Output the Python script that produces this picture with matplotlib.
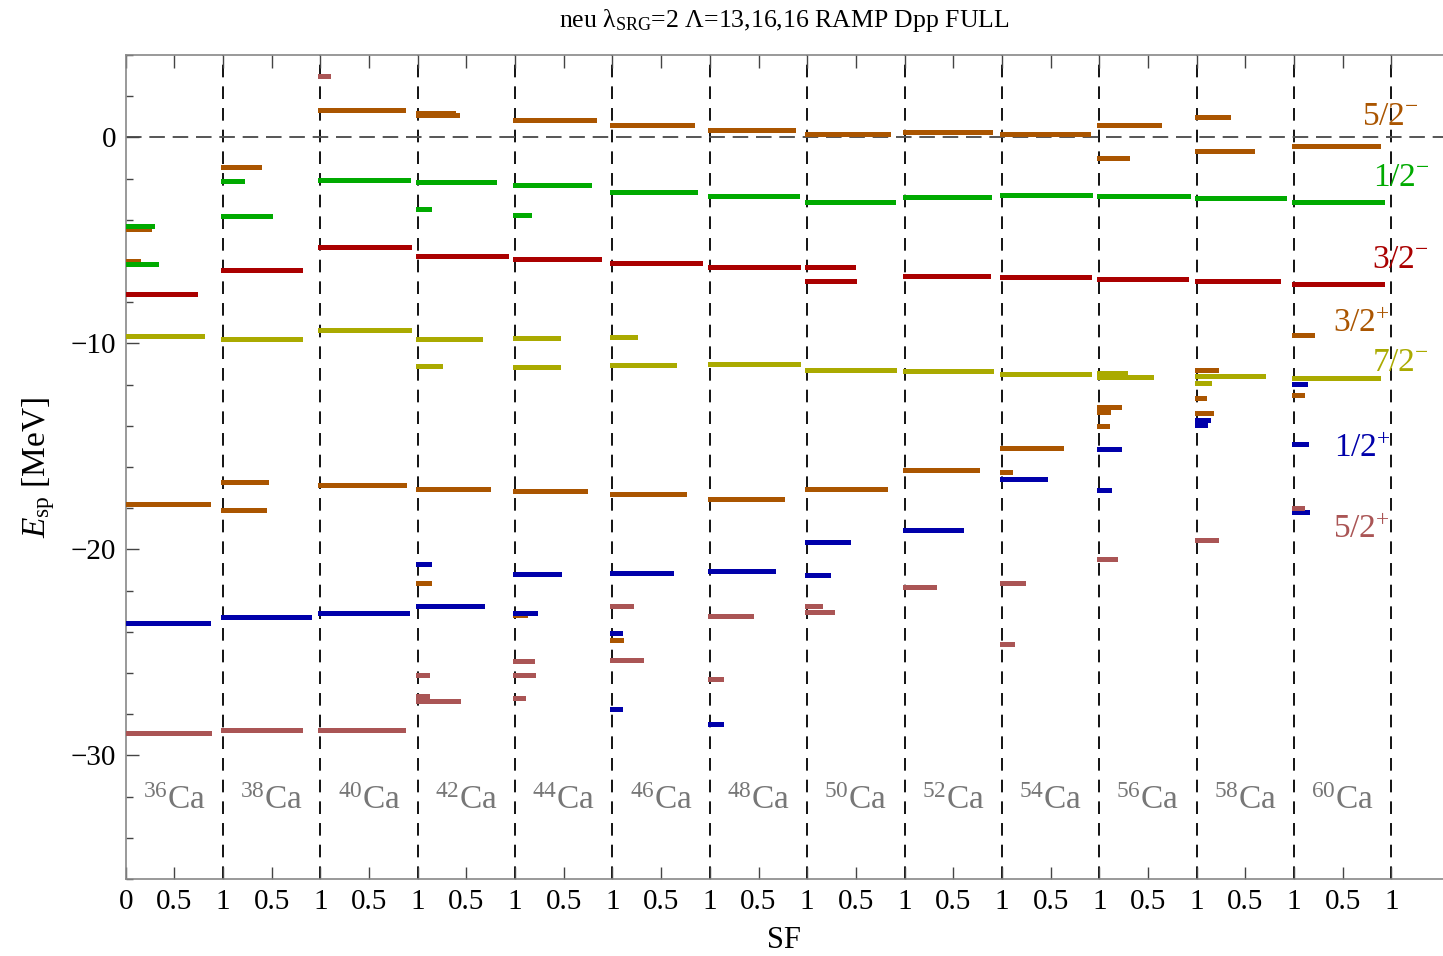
import numpy as np
import matplotlib
matplotlib.use('Agg')
import matplotlib.pyplot as plt
from matplotlib.ticker import FixedLocator, MultipleLocator

plt.rcParams['font.family'] = ['Liberation Serif', 'DejaVu Serif']
plt.rcParams['mathtext.fontset'] = 'custom'
plt.rcParams['mathtext.rm'] = 'Liberation Serif'
plt.rcParams['mathtext.it'] = 'Liberation Serif:italic'

# mass numbers of the calcium isotopes, one panel each
masses = ['36', '38', '40', '42', '44', '46', '48', '50', '52', '54', '56', '58', '60']

# single-particle levels: (panel index, E_sp [MeV], spectroscopic factor)
f52m = [(0, -4.45, 0.24), (0, -5.99, 0.13), (1, -1.44, 0.37), (2, 1.33, 0.85),
        (3, 1.20, 0.36), (3, 1.10, 0.40), (4, 0.84, 0.81), (5, 0.60, 0.82),
        (6, 0.36, 0.85), (7, 0.17, 0.83), (8, 0.26, 0.88), (9, 0.17, 0.88),
        (10, 0.60, 0.61), (10, -1.00, 0.28), (11, 0.99, 0.32), (11, -0.65, 0.57),
        (12, -0.42, 0.86)]

p12m = [(0, -4.30, 0.27), (0, -6.15, 0.31), (1, -2.12, 0.19), (1, -3.82, 0.48),
        (2, -2.05, 0.90), (3, -2.17, 0.78), (3, -3.48, 0.12), (4, -2.31, 0.76),
        (4, -3.75, 0.14), (5, -2.65, 0.85), (6, -2.86, 0.89), (7, -3.14, 0.88),
        (8, -2.89, 0.87), (9, -2.80, 0.90), (10, -2.85, 0.91), (11, -2.94, 0.90),
        (12, -3.12, 0.90)]

p32m = [(0, -7.60, 0.71), (1, -6.44, 0.79), (2, -5.31, 0.91), (3, -5.76, 0.91),
        (4, -5.90, 0.86), (5, -6.12, 0.90), (6, -6.29, 0.91), (7, -6.29, 0.47),
        (7, -6.97, 0.48), (8, -6.73, 0.86), (9, -6.78, 0.89), (10, -6.87, 0.89),
        (11, -6.97, 0.84), (12, -7.12, 0.90)]

d32p = [(0, -17.80, 0.85), (1, -16.73, 0.44), (1, -18.09, 0.42), (2, -16.89, 0.86),
        (3, -17.07, 0.72), (3, -21.63, 0.12), (4, -17.15, 0.72), (4, -23.17, 0.10),
        (5, -17.30, 0.73), (5, -24.40, 0.09), (6, -17.54, 0.74), (7, -17.07, 0.80),
        (8, -16.16, 0.74), (9, -15.08, 0.61), (9, -16.24, 0.08), (10, -13.09, 0.20),
        (10, -13.32, 0.09), (10, -14.01, 0.08), (11, -11.29, 0.20), (11, -12.65, 0.08),
        (11, -13.38, 0.15), (12, -9.59, 0.18), (12, -12.52, 0.08)]

f72m = [(0, -9.64, 0.78), (1, -9.79, 0.79), (2, -9.35, 0.91), (3, -9.79, 0.64),
        (3, -11.08, 0.23), (4, -9.74, 0.44), (4, -11.15, 0.44), (5, -9.69, 0.23),
        (5, -11.05, 0.63), (6, -11.00, 0.91), (7, -11.29, 0.89), (8, -11.34, 0.89),
        (9, -11.47, 0.89), (10, -11.45, 0.26), (10, -11.62, 0.53), (11, -11.60, 0.68),
        (11, -11.92, 0.13), (12, -11.68, 0.86)]

s12p = [(0, -23.57, 0.85), (1, -23.30, 0.88), (2, -23.09, 0.89), (3, -20.71, 0.12),
        (3, -22.75, 0.66), (4, -21.19, 0.45), (4, -23.11, 0.20), (5, -21.13, 0.60),
        (5, -24.06, 0.08), (5, -27.75, 0.08), (6, -21.05, 0.65), (6, -28.48, 0.11),
        (7, -19.66, 0.42), (7, -21.25, 0.21), (8, -19.06, 0.58), (9, -16.58, 0.44),
        (10, -15.13, 0.20), (10, -17.12, 0.10), (11, -13.72, 0.12), (11, -13.95, 0.09),
        (12, -11.97, 0.11), (12, -14.88, 0.12), (12, -18.18, 0.13)]

d52p = [(0, -28.91, 0.86), (1, -28.77, 0.79), (2, 2.98, 0.08), (2, -28.77, 0.85),
        (3, -26.08, 0.09), (3, -27.12, 0.09), (3, -27.36, 0.41), (4, -25.42, 0.17),
        (4, -26.10, 0.18), (4, -27.21, 0.08), (5, -22.75, 0.19), (5, -25.37, 0.29),
        (6, -23.24, 0.42), (6, -26.29, 0.11), (7, -22.75, 0.13), (7, -23.04, 0.25),
        (8, -21.83, 0.30), (9, -21.62, 0.22), (9, -24.58, 0.10), (10, -20.47, 0.16),
        (11, -19.54, 0.20), (12, -17.99, 0.08)]

# state name, levels, colour, label anchor (x, y)
states = [
    (r'$5/2^{-}$', f52m, '#AA5500', (12.70, 0.60)),
    (r'$1/2^{-}$', p12m, '#00AA00', (12.81, -2.35)),
    (r'$3/2^{-}$', p32m, '#AA0000', (12.80, -6.36)),
    (r'$3/2^{+}$', d32p, '#AA5500', (12.40, -9.47)),
    (r'$7/2^{-}$', f72m, '#AAAA00', (12.80, -11.33)),
    (r'$1/2^{+}$', s12p, '#0000AA', (12.41, -15.50)),
    (r'$5/2^{+}$', d52p, '#AA5555', (12.40, -19.45)),
]

fig = plt.figure(figsize=(14.43, 9.56), dpi=100)
ax = fig.add_axes([0.0871, 0.0805, 0.9129, 0.862])

npan = len(masses)
ax.set_xlim(0, 13.53)
ax.set_ylim(-36, 4)

# panel separators and zero line
for k in range(1, npan + 1):
    ax.axvline(k, color='black', lw=1.3, ls=(0, (7, 5)), zorder=1)
ax.axhline(0, color='#555555', lw=1.4, ls=(0, (8, 4)), zorder=1)

for name, levels, col, (lx, ly) in states:
    for i, e, sf in levels:
        ax.plot([i, i + sf], [e, e], color=col, lw=3.6,
                solid_capstyle='projecting', zorder=3)
    ax.text(lx, ly, name, color=col, fontsize=24, va='baseline', ha='left')

for k, a in enumerate(masses):
    ax.text(k + 0.5, -32.6, r'$^{%s}$Ca' % a, color='#777777', fontsize=24,
            ha='center', va='baseline')

# x ticks: 0, then 0.5 / 1 repeated for every panel
xt = np.arange(0, npan + 0.01, 0.5)
xl = ['0'] + ['0.5' if k % 2 == 1 else '1' for k in range(1, len(xt))]
ax.xaxis.set_major_locator(FixedLocator(xt))
ax.set_xticklabels(xl)

ax.yaxis.set_major_locator(FixedLocator([-30, -20, -10, 0]))
ax.set_yticklabels(['\u221230', '\u221220', '\u221210', '0'])
ax.yaxis.set_minor_locator(MultipleLocator(2))

ax.tick_params(axis='both', which='major', direction='in', length=9, width=1,
               labelsize=21, pad=7, color='#444444')
ax.tick_params(axis='y', which='minor', direction='in', length=5, width=1,
               color='#444444')
ax.tick_params(axis='x', top=True)

for s in ['left', 'bottom', 'top']:
    ax.spines[s].set_color('#888888')
    ax.spines[s].set_linewidth(1.2)
ax.spines['right'].set_visible(False)

ax.set_xlabel('SF', fontsize=22, labelpad=8)
ax.set_ylabel(r'$E_{\mathrm{sp}}$ [MeV]', fontsize=24, labelpad=10)
ax.set_title('neu \u03bb$_{\\mathrm{SRG}}$=2 \u039b=13,16,16 RAMP Dpp FULL',
             fontsize=18.5, pad=20)

fig.savefig('out.png', dpi=100)
